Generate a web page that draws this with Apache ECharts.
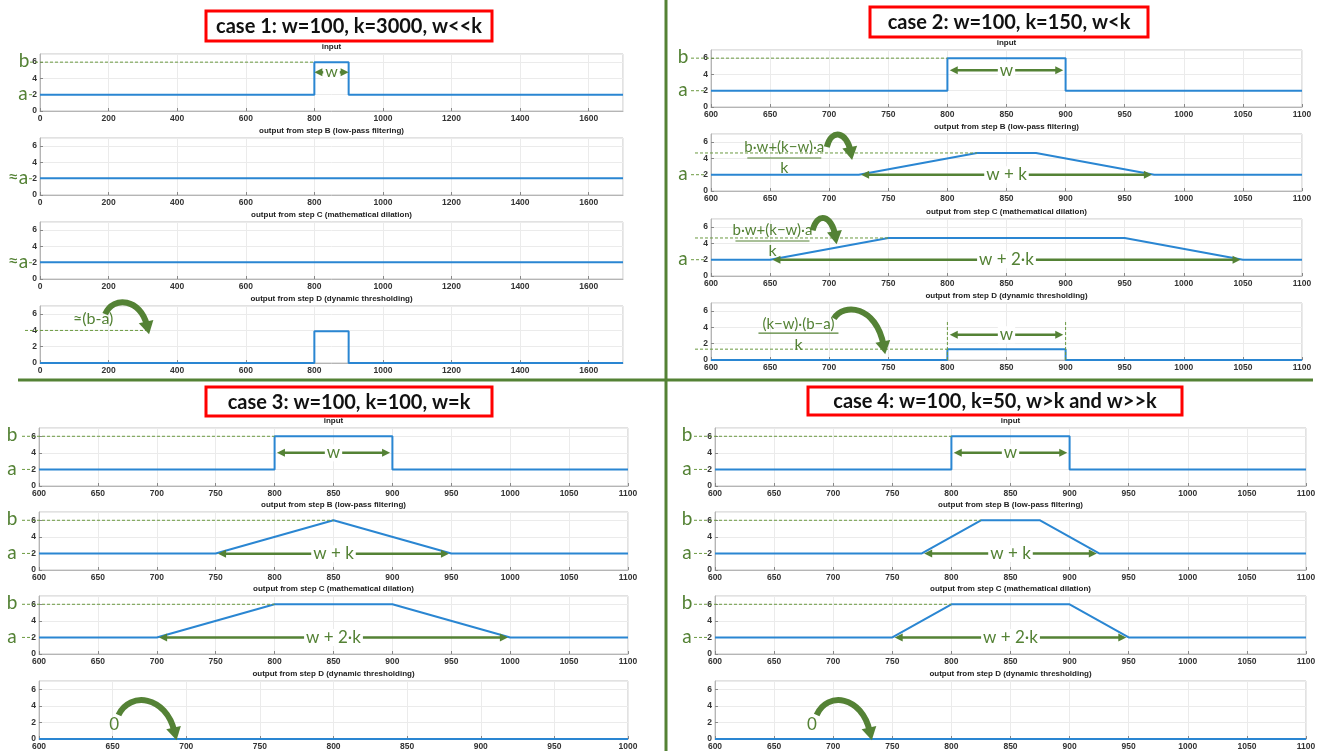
<!DOCTYPE html>
<html>
<head>
<meta charset="utf-8">
<script src="https://cdn.jsdelivr.net/npm/echarts@6/dist/echarts.min.js"></script>
<style>
  html, body { margin: 0; padding: 0; background: #fff; }
  #chart { width: 1327px; height: 751px; }
</style>
</head>
<body>
<div id="chart"></div>
<script>
// x ranges [min, max, interval]
const rangeWide = [0, 1700, 200];
const rangeZoom = [600, 1100, 50];
const rangeShort = [600, 1000, 50];

const caseTitles = [
  'case 1: w=100, k=3000, w<<k',
  'case 2: w=100, k=150, w<k',
  'case 3: w=100, k=100, w=k',
  'case 4: w=100, k=50, w>k and w>>k'
];
const plotTitles = [
  'input',
  'output from step B (low-pass filtering)',
  'output from step C (mathematical dilation)',
  'output from step D (dynamic thresholding)'
];

// case 1: w=100, k=3000
const c1Input = [[0, 2], [800, 2], [800, 6], [900, 6], [900, 2], [1700, 2]];
const c1StepB = [[0, 2.05], [1700, 2.05]];
const c1StepC = [[0, 2.05], [1700, 2.05]];
const c1StepD = [[0, 0], [800, 0], [800, 3.9], [900, 3.9], [900, 0], [1700, 0]];

// case 2: w=100, k=150
const c2Input = [[600, 2], [800, 2], [800, 6], [900, 6], [900, 2], [1100, 2]];
const c2StepB = [[600, 2], [725, 2], [825, 4.67], [875, 4.67], [975, 2], [1100, 2]];
const c2StepC = [[600, 2], [650, 2], [750, 4.67], [950, 4.67], [1050, 2], [1100, 2]];
const c2StepD = [[600, 0], [800, 0], [800, 1.33], [900, 1.33], [900, 0], [1100, 0]];

// case 3: w=100, k=100
const c3Input = [[600, 2], [800, 2], [800, 6], [900, 6], [900, 2], [1100, 2]];
const c3StepB = [[600, 2], [750, 2], [850, 6], [950, 2], [1100, 2]];
const c3StepC = [[600, 2], [700, 2], [800, 6], [900, 6], [1000, 2], [1100, 2]];
const c3StepD = [[600, 0], [1000, 0]];

// case 4: w=100, k=50
const c4Input = [[600, 2], [800, 2], [800, 6], [900, 6], [900, 2], [1100, 2]];
const c4StepB = [[600, 2], [775, 2], [825, 6], [875, 6], [925, 2], [1100, 2]];
const c4StepC = [[600, 2], [750, 2], [800, 6], [900, 6], [950, 2], [1100, 2]];
const c4StepD = [[600, 0], [1100, 0]];

const yTicks = [0, 7, 2];

const panels = [
  [c1Input, c1StepB, c1StepC, c1StepD],
  [c2Input, c2StepB, c2StepC, c2StepD],
  [c3Input, c3StepB, c3StepC, c3StepD],
  [c4Input, c4StepB, c4StepC, c4StepD]
];
const ranges = [
  [rangeWide, rangeWide, rangeWide, rangeWide],
  [rangeZoom, rangeZoom, rangeZoom, rangeZoom],
  [rangeZoom, rangeZoom, rangeZoom, rangeShort],
  [rangeZoom, rangeZoom, rangeZoom, rangeZoom]
];

// layout of the four quadrants (pixels)
const quads = [
  { left: 40, width: 583, tops: [54, 138, 222, 306], height: 57, box: [206, 11, 286, 30] },
  { left: 711, width: 591, tops: [50, 134, 219, 303], height: 57, box: [870, 7, 278, 30] },
  { left: 39, width: 589, tops: [428, 512, 596, 681], height: 58, box: [206, 387, 286, 29] },
  { left: 715, width: 591, tops: [428, 512, 596, 681], height: 58, box: [808, 387, 374, 28] }
];

const BLUE = '#2a86d2';
const GREEN = '#548235';
const DOT = '#6b9a40';
const TICK_FONT = 'Liberation Sans';
const NOTE_FONT = 'Lato';

const grids = [], xAxes = [], yAxes = [], series = [], titleGfx = [];
const plain = v => String(v);

quads.forEach((q, qi) => {
  for (let j = 0; j < 4; j++) {
    const i = qi * 4 + j;
    const r = ranges[qi][j];
    grids.push({
      left: q.left, top: q.tops[j], width: q.width, height: q.height,
      show: true, borderColor: '#c4c4c4', borderWidth: 1, backgroundColor: '#fff',
      containLabel: false, outerBoundsMode: 'none'
    });
    xAxes.push({
      gridIndex: i, type: 'value', min: r[0], max: r[1], interval: r[2],
      axisLine: { show: true, onZero: false, lineStyle: { color: '#b5b5b5' } },
      axisTick: { show: true, inside: true, length: 3, lineStyle: { color: '#888' } },
      splitLine: { show: true, lineStyle: { color: '#ebebeb' } },
      axisLabel: {
        fontSize: 8.5, fontWeight: 'bold', color: '#333', margin: 3, fontFamily: TICK_FONT,
        showMaxLabel: r[1] % r[2] === 0, formatter: plain
      }
    });
    yAxes.push({
      gridIndex: i, type: 'value', min: yTicks[0], max: yTicks[1], interval: yTicks[2],
      axisLine: { show: true, onZero: false, lineStyle: { color: '#b5b5b5' } },
      axisTick: { show: true, inside: true, length: 3, lineStyle: { color: '#888' } },
      splitLine: { show: true, lineStyle: { color: '#ebebeb' } },
      axisLabel: {
        fontSize: 8.5, fontWeight: 'bold', color: '#333', margin: 3, fontFamily: TICK_FONT,
        showMaxLabel: false, formatter: plain
      }
    });
    series.push({
      type: 'line', xAxisIndex: i, yAxisIndex: i, data: panels[qi][j],
      showSymbol: false, symbol: 'none', silent: true, animation: false,
      lineStyle: { color: BLUE, width: 2 }
    });
    titleGfx.push({
      type: 'text', z: 100, silent: true,
      style: {
        x: q.left + q.width / 2, y: q.tops[j] - 7, text: plotTitles[j],
        fill: '#222', font: 'bold 8px ' + TICK_FONT, align: 'center', verticalAlign: 'middle'
      }
    });
  }
});

const frame = [
  { type: 'line', z: 100, silent: true, shape: { x1: 666, y1: 0, x2: 666, y2: 751 },
    style: { stroke: GREEN, lineWidth: 3 } },
  { type: 'line', z: 100, silent: true, shape: { x1: 18, y1: 380, x2: 1313, y2: 380 },
    style: { stroke: GREEN, lineWidth: 3 } }
];
quads.forEach((q, qi) => {
  const b = q.box;
  frame.push({ type: 'rect', z: 100, silent: true,
    shape: { x: b[0], y: b[1], width: b[2], height: b[3] },
    style: { fill: '#fff', stroke: '#ff0000', lineWidth: 3 } });
  frame.push({ type: 'text', z: 101, silent: true,
    style: { x: b[0] + b[2] / 2, y: b[1] + b[3] / 2 + 1, text: caseTitles[qi], fill: '#111',
      font: 'bold 20px ' + NOTE_FONT, align: 'center', verticalAlign: 'middle' } });
});

const chart = echarts.init(document.getElementById('chart'), null, { renderer: 'canvas', width: 1327, height: 751 });
chart.setOption({
  animation: false,
  backgroundColor: '#fff',
  grid: grids,
  xAxis: xAxes,
  yAxis: yAxes,
  series: series
});

// ---- annotations, placed through the axes of each subplot ----
const notes = [];
const P = (g, x, y) => chart.convertToPixel({ gridIndex: g }, [x, y]);
const gl = g => grids[g].left;

function text(x, y, s, size, extra) {
  notes.push({ type: 'text', z: 110, silent: true,
    style: Object.assign({ x, y, text: s, fill: GREEN, font: size + 'px ' + NOTE_FONT,
      align: 'center', verticalAlign: 'middle' }, extra || {}) });
}
function seg(x1, y1, x2, y2, w, dash, color) {
  notes.push({ type: 'line', z: 105, silent: true, shape: { x1, y1, x2, y2 },
    style: { stroke: color || GREEN, lineWidth: w, lineDash: dash || null } });
}
function head(tx, ty, dx, dy, len, wid) {
  const l = Math.hypot(dx, dy); dx /= l; dy /= l;
  const nx = -dy, ny = dx;
  const bx = tx - dx * len, by = ty - dy * len;
  notes.push({ type: 'polygon', z: 108, silent: true,
    shape: { points: [[tx, ty], [bx + nx * wid / 2, by + ny * wid / 2], [bx - nx * wid / 2, by - ny * wid / 2]] },
    style: { fill: GREEN } });
}
function leftLabel(g, s, y, off) {
  const p = P(g, 0, y);
  text(gl(g) - off, p[1] - 1, s, 19);
}
function dotted(g, off, y, toX) {
  const p = P(g, toX, y);
  seg(gl(g) - off, p[1], p[0], p[1], 1, [3, 2], DOT);
}
function dash(g, off1, off2, y) {
  const p = P(g, 0, y);
  seg(gl(g) - off1, p[1], gl(g) - off2, p[1], 1, [3, 2], DOT);
}
function vdash(g, x, y1, y2) {
  const a = P(g, x, y1), b = P(g, x, y2);
  seg(a[0], a[1], b[0], b[1], 1, [3, 2], DOT);
}
function dblArrow(g, x1, x2, y, s, size) {
  const a = P(g, x1, y), b = P(g, x2, y);
  const hl = 8;
  seg(a[0] + hl - 1, a[1], b[0] - hl + 1, b[1], 2.5);
  head(a[0], a[1], -1, 0, hl, 8);
  head(b[0], b[1], 1, 0, hl, 8);
  text((a[0] + b[0]) / 2, a[1], s, size || 17, { backgroundColor: '#fff', padding: [0, 2] });
}
function fraction(g, cx, yNum, yBar, yDen, num, den, half) {
  const n = P(g, cx, yNum), m = P(g, cx, yBar), d = P(g, cx, yDen);
  text(n[0], n[1], num, 15);
  seg(m[0] - half, m[1], m[0] + half, m[1], 1.2);
  text(d[0], d[1], den, 16);
}
function curved(g, tail, tip, lift) {
  const t = P(g, tail[0], tail[1]), e = P(g, tip[0], tip[1]);
  const dx = e[0] - t[0];
  const c1 = [t[0] + dx * 0.2, t[1] - lift];
  const c2 = [e[0] - dx * 0.15, t[1] - lift * 0.8];
  notes.push({ type: 'bezierCurve', z: 108, silent: true,
    shape: { x1: t[0], y1: t[1], cpx1: c1[0], cpy1: c1[1], cpx2: c2[0], cpy2: c2[1], x2: e[0], y2: e[1] },
    style: { stroke: GREEN, lineWidth: 6, fill: null } });
  const ddx = e[0] - c2[0], ddy = e[1] - c2[1];
  const l = Math.hypot(ddx, ddy);
  head(e[0] + ddx / l * 9, e[1] + ddy / l * 9, ddx, ddy, 13, 15);
}

// case 1
leftLabel(0, 'b', 6, 16); dotted(0, 10, 6, 800);
leftLabel(0, 'a', 2, 17); dash(0, 11, 5, 2);
dblArrow(0, 800, 900, 4.75, 'w', 16);
leftLabel(1, '≈a', 2, 22); dash(1, 11, 6, 2);
leftLabel(2, '≈a', 2, 22); dash(2, 11, 6, 2);
dotted(3, 15, 4, 315);
text(P(3, 155, 5.4)[0], P(3, 155, 5.4)[1], '≈(b-a)', 16);
curved(3, [190, 6.0], [312, 4.6], 19);

// case 2
leftLabel(4, 'b', 6, 28); dotted(4, 20, 6, 800);
leftLabel(4, 'a', 2, 28); dash(4, 20, 6, 2);
dblArrow(4, 802, 898, 4.5, 'w');
leftLabel(5, 'a', 2, 28); dash(5, 20, 6, 2);
dotted(5, 16, 4.67, 825);
fraction(5, 662, 5.35, 4.05, 2.8, 'b·w+(k−w)·a', 'k', 37);
curved(5, [698, 5.4], [718, 4.9], 19);
dblArrow(5, 727, 973, 2, 'w + k');
leftLabel(6, 'a', 2, 28); dash(6, 20, 6, 2);
dotted(6, 16, 4.67, 750);
fraction(6, 652, 5.6, 4.3, 3.05, 'b·w+(k−w)·a', 'k', 37);
curved(6, [686, 5.6], [705, 5.0], 19);
dblArrow(6, 652, 1048, 2, 'w + 2·k');
dotted(7, 16, 1.33, 800);
vdash(7, 800, 0, 4.7); vdash(7, 900, 0, 4.7);
dblArrow(7, 802, 898, 3.1, 'w');
fraction(7, 674, 4.45, 3.3, 1.85, '(k−w)·(b−a)', 'k', 40);
curved(7, [704, 5.1], [746, 1.8], 16);

// case 3
leftLabel(8, 'b', 6, 27); dotted(8, 17, 6, 800);
leftLabel(8, 'a', 2, 27); dash(8, 17, 6, 2);
dblArrow(8, 802, 898, 4, 'w');
leftLabel(9, 'b', 6, 27); dotted(9, 17, 6, 850);
leftLabel(9, 'a', 2, 27); dash(9, 17, 6, 2);
dblArrow(9, 752, 948, 1.95, 'w + k');
leftLabel(10, 'b', 6, 27); dotted(10, 17, 6, 800);
leftLabel(10, 'a', 2, 27); dash(10, 17, 6, 2);
dblArrow(10, 702, 998, 2, 'w + 2·k');
text(P(11, 651, 1.7)[0], P(11, 651, 1.7)[1], '0', 17);
curved(11, [654, 2.9], [692, 0.9], 24);

// case 4
leftLabel(12, 'b', 6, 28); dotted(12, 21, 6, 800);
leftLabel(12, 'a', 2, 28); dash(12, 21, 6, 2);
dblArrow(12, 802, 898, 4, 'w');
leftLabel(13, 'b', 6, 28); dotted(13, 21, 6, 825);
leftLabel(13, 'a', 2, 28); dash(13, 21, 6, 2);
dblArrow(13, 777, 923, 2, 'w + k');
leftLabel(14, 'b', 6, 28); dotted(14, 21, 6, 800);
leftLabel(14, 'a', 2, 28); dash(14, 21, 6, 2);
dblArrow(14, 752, 948, 2, 'w + 2·k');
text(P(15, 682, 1.7)[0], P(15, 682, 1.7)[1], '0', 17);
curved(15, [686, 2.9], [731, 0.9], 24);

chart.setOption({ graphic: titleGfx.concat(frame, notes) });
</script>
</body>
</html>
